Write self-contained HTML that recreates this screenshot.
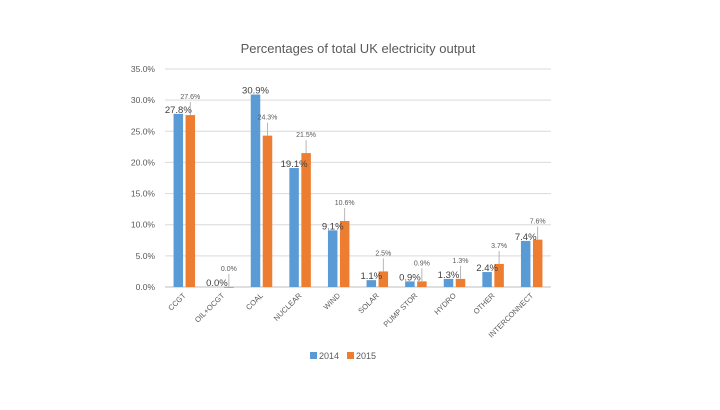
<!DOCTYPE html>
<html><head><meta charset="utf-8"><style>
body{margin:0;background:#fff;}
svg{font-family:"Liberation Sans",sans-serif;}
</style></head><body>
<svg id="chart" width="720" height="405" xmlns="http://www.w3.org/2000/svg">
<text x="358" y="53" text-anchor="middle" font-size="13" fill="#595959">Percentages of total UK electricity output</text>
<g id="grid"></g><g id="bars"></g><g id="labels"></g>
<g>
<rect x="310" y="352" width="7" height="7" fill="#5b9bd5"/>
<text x="319" y="359" font-size="9" fill="#595959">2014</text>
<rect x="347" y="352" width="7" height="7" fill="#ed7d31"/>
<text x="356" y="359" font-size="9" fill="#595959">2015</text>
</g>
</svg>
<script>
const categories=["CCGT","OIL+OCGT","COAL","NUCLEAR","WIND","SOLAR","PUMP STOR","HYDRO","OTHER","INTERCONNECT"];
const values2014=[27.8,0.0,30.9,19.1,9.1,1.1,0.9,1.3,2.4,7.4];
const values2015=[27.6,0.0,24.3,21.5,10.6,2.5,0.9,1.3,3.7,7.6];
const yTicks=[0,5,10,15,20,25,30,35];
const NS="http://www.w3.org/2000/svg";
const x0=165,x1=551,y0=287,yTop=69,yMax=35;
const band=(x1-x0)/categories.length;
function y(v){return y0-(v/yMax)*(y0-yTop);}
function xc(i){return x0+band*(i+0.5);}
function mk(tag,attrs,parent,text){const e=document.createElementNS(NS,tag);for(const k in attrs)e.setAttribute(k,attrs[k]);if(text!==undefined)e.textContent=text;document.getElementById(parent).appendChild(e);return e;}
yTicks.forEach(t=>{
  const l=mk('line',{x1:x0,x2:x1,y1:y(t),y2:y(t),stroke:t===0?'#bfbfbf':'#d9d9d9','stroke-width':1},'grid');
  
  
  const tx=mk('text',{x:155,y:y(t)+3,'text-anchor':'end','font-size':8.5,fill:'#595959'},'grid',t.toFixed(1)+'%');
  
  
});
const bw=9.5;
categories.forEach((c,i)=>{
  const cx=xc(i);
  const a=values2014[i],b=values2015[i];
  const r1=mk('rect',{x:cx-6-bw/2,y:y(a),width:bw,height:y0-y(a),fill:'#5b9bd5'},'bars');
  
  
  const r2=mk('rect',{x:cx+6-bw/2,y:y(b),width:bw,height:Math.max(y0-y(b),0.8),fill:'#ed7d31'},'bars');
  
  
  const t1=mk('text',{x:cx-6,y:y(a)-1,'text-anchor':'middle','font-size':9.5,fill:'#404040'},'labels',a.toFixed(1)+'%');
  
  
  const ly=y(b)-16;
  const ln=mk('line',{x1:cx+6,x2:cx+6,y1:ly+3,y2:y(b),stroke:'#a6a6a6','stroke-width':0.8},'labels');
  
  
  const t2=mk('text',{x:cx+6,y:ly,'text-anchor':'middle','font-size':7,fill:'#595959'},'labels',b.toFixed(1)+'%');
  
  
  const cl=mk('text',{x:cx+2,y:296,'text-anchor':'end','font-size':7.5,fill:'#595959',transform:`rotate(-45 ${cx+2} 296)`},'labels',c);
  
  
});
</script>
</body></html>
